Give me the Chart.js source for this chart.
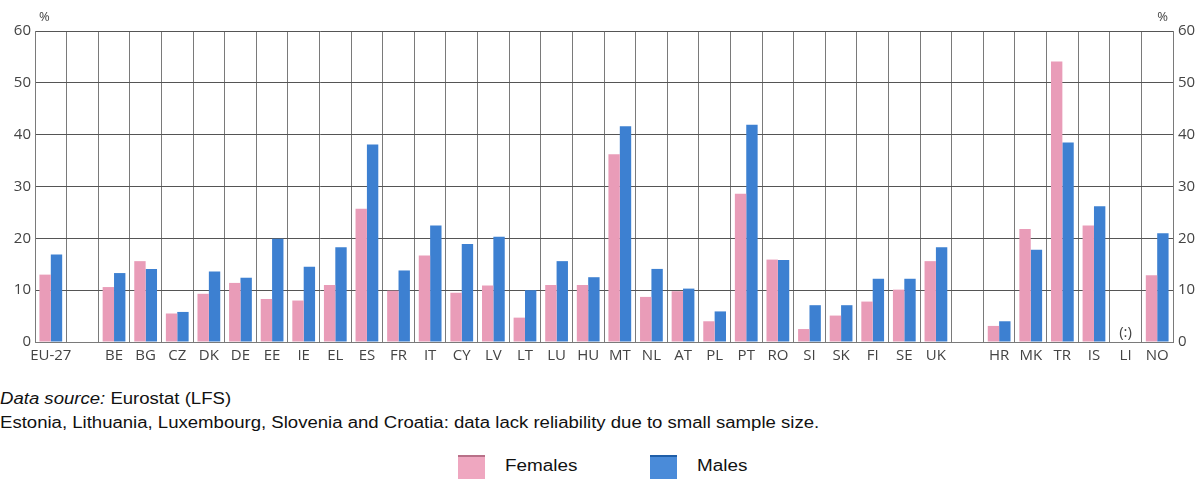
<!DOCTYPE html>
<html>
<head>
<meta charset="utf-8">
<script src="https://cdn.jsdelivr.net/npm/chart.js@4.4.0/dist/chart.umd.min.js"></script>
<style>
    body { margin: 0; background: #fff; width: 1198px; height: 479px; overflow: hidden; font-family: "Liberation Sans", Arial, sans-serif; }
    #chartBox { position: absolute; left: 0; top: 0; width: 1198px; height: 372px; }
    .note { position: absolute; left: 0; font-size: 16px; color: #111; white-space: nowrap; transform: scaleX(1.16); transform-origin: left top; }
    .legend { position: absolute; top: 455px; height: 24px; font-size: 16px; color: #111; }
    .swatch { position: absolute; top: 0; width: 27px; height: 24px; }
    .legend span { position: absolute; top: 2px; white-space: nowrap; transform: scaleX(1.18); transform-origin: left top; }
</style>
</head>
<body>
<div id="chartBox"><canvas id="chart"></canvas></div>
<div class="note" style="top:390px"><i>Data source:</i> Eurostat (LFS)</div>
<div class="note" style="top:414px">Estonia, Lithuania, Luxembourg, Slovenia and Croatia: data lack reliability due to small sample size.</div>
<div class="legend" style="left:458px">
    <div class="swatch" style="left:0; background:#efa7c0; border-top:2px solid #b87088; height:22px"></div>
    <span style="left:47px">Females</span>
</div>
<div class="legend" style="left:650px">
    <div class="swatch" style="left:0; background:#4a8bd9; border-top:2px solid #1f5ea8; height:22px"></div>
    <span style="left:47px">Males</span>
</div>
<script>
const countries = ['EU-27', '', 'BE', 'BG', 'CZ', 'DK', 'DE', 'EE', 'IE', 'EL', 'ES', 'FR', 'IT', 'CY', 'LV', 'LT', 'LU', 'HU', 'MT', 'NL', 'AT', 'PL', 'PT', 'RO', 'SI', 'SK', 'FI', 'SE', 'UK', '', 'HR', 'MK', 'TR', 'IS', 'LI', 'NO'];
const females = [13.0, null, 10.6, 15.6, 5.5, 9.3, 11.4, 8.3, 8.0, 11.0, 25.7, 9.9, 16.7, 9.5, 10.9, 4.7, 11.0, 11.0, 36.2, 8.7, 9.8, 4.0, 28.6, 15.9, 2.5, 5.1, 7.8, 10.1, 15.6, null, 3.1, 21.8, 54.1, 22.5, null, 12.9];
const males = [16.9, null, 13.3, 14.1, 5.8, 13.6, 12.4, 19.9, 14.5, 18.3, 38.1, 13.8, 22.5, 18.9, 20.3, 10.0, 15.6, 12.5, 41.6, 14.1, 10.3, 5.9, 41.9, 15.8, 7.1, 7.1, 12.2, 12.2, 18.3, null, 4.0, 17.8, 38.5, 26.2, null, 21.0];
const yTicks = [0, 10, 20, 30, 40, 50, 60];
const missingLabel = '(:)';
const missingAt = 'LI';

const xFont = { family: '"Open Sans", "Noto Sans", sans-serif', size: 15 };
const yFont = { family: '"Open Sans", "Noto Sans", sans-serif', size: 15 };
const tickColor = '#444';

// draws the "%" unit marks and the (:) for missing data
const extras = {
    id: 'extras',
    afterDraw(chart) {
        const ctx = chart.ctx;
        const area = chart.chartArea;
        const x = chart.scales.x;
        const y = chart.scales.y;
        ctx.save();
        ctx.fillStyle = tickColor;
        ctx.font = '13px "Open Sans", sans-serif';
        ctx.textAlign = 'left';
        ctx.textBaseline = 'bottom';
        ctx.fillText('%', area.left + 4, area.top - 7);
        ctx.textAlign = 'right';
        ctx.fillText('%', area.right - 5, area.top - 7);
        ctx.font = '15px "Open Sans", sans-serif';
        ctx.textAlign = 'center';
        ctx.fillText(missingLabel, x.getPixelForValue(countries.indexOf(missingAt)), y.getPixelForValue(0) - 2);
        ctx.restore();
    }
};

new Chart(document.getElementById('chart'), {
    type: 'bar',
    data: {
        labels: countries,
        datasets: [
            { label: 'Females', data: females, backgroundColor: '#e99cb8', borderWidth: 0 },
            { label: 'Males', data: males, backgroundColor: '#3d80d1', borderWidth: 0 }
        ]
    },
    options: {
        responsive: true,
        maintainAspectRatio: false,
        animation: false,
        layout: { padding: { top: 31, left: 0, right: 0, bottom: 0 } },
        datasets: { bar: { categoryPercentage: 0.72, barPercentage: 1.0 } },
        plugins: { legend: { display: false }, tooltip: { enabled: false } },
        scales: {
            x: {
                offset: true,
                grid: { offset: true, color: '#7a7a7a', lineWidth: 1, drawTicks: false },
                border: { color: '#7a7a7a' },
                ticks: { font: xFont, color: tickColor, autoSkip: false, maxRotation: 0, padding: 5 },
                afterFit: s => { s.height = 30; }
            },
            y: {
                position: 'left',
                min: 0, max: 60,
                afterBuildTicks: s => { s.ticks = yTicks.map(v => ({ value: v })); },
                grid: { color: '#555', lineWidth: 1, drawTicks: false },
                border: { color: '#7a7a7a' },
                ticks: { font: yFont, color: tickColor, padding: 4 },
                afterFit: s => { s.width = 35; }
            },
            y2: {
                position: 'right',
                min: 0, max: 60,
                afterBuildTicks: s => { s.ticks = yTicks.map(v => ({ value: v })); },
                grid: { display: false, drawTicks: false },
                border: { color: '#7a7a7a' },
                ticks: { font: yFont, color: tickColor, padding: 5 },
                afterFit: s => { s.width = 25; }
            }
        }
    },
    plugins: [extras]
});
</script>
</body>
</html>
